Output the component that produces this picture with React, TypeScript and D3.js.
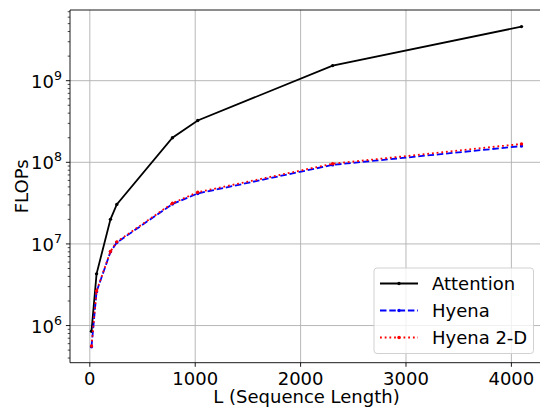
import React, { useEffect, useRef } from 'react';
import * as d3 from 'd3';

// sequence lengths (image sizes squared)
const seqLengths = [16, 64, 196, 256, 784, 1024, 2304, 4096];
const attentionFlops = [8.5e5, 4.3e6, 2.0e7, 3.05e7, 2.0e8, 3.25e8, 1.53e9, 4.6e9];
const hyenaFlops = [5.5e5, 2.6e6, 8.0e6, 1.04e7, 3.08e7, 4.15e7, 9.3e7, 1.58e8];
const hyena2dFlops = [5.6e5, 2.65e6, 8.1e6, 1.06e7, 3.15e7, 4.3e7, 9.6e7, 1.68e8];

const xTicks = [0, 1000, 2000, 3000, 4000];
const yExponents = [6, 7, 8, 9];

const seriesNames = ['Attention', 'Hyena', 'Hyena 2-D'];
const seriesColors = ['#000000', '#0000ff', '#ff0000'];
const seriesDash = [null, '6.5,2.8', '1.8,2.9'];

const W = 540;
const H = 408;
const FONT = 'DejaVu Sans, sans-serif';
const FS = 18;

const App = () => {
  const ref = useRef(null);

  useEffect(() => {
    const svg = d3.select(ref.current);
    svg.selectAll('*').remove();

    const left = 70, right = 543, top = 10, bottom = 362.7;

    const x = d3.scaleLinear().domain([-188, 4300]).range([left, right]);
    const y = d3.scaleLog().domain([Math.pow(10, 5.545), Math.pow(10, 9.866)]).range([bottom, top]);

    svg.append('rect').attr('width', W).attr('height', H).attr('fill', '#fff');

    const grid = svg.append('g').attr('stroke', '#b0b0b0').attr('stroke-width', 0.9);
    xTicks.forEach((t) => {
      grid.append('line').attr('x1', x(t)).attr('x2', x(t)).attr('y1', top).attr('y2', bottom);
    });
    yExponents.forEach((e) => {
      grid.append('line').attr('x1', left).attr('x2', right).attr('y1', y(Math.pow(10, e))).attr('y2', y(Math.pow(10, e)));
    });

    // lines
    const allSeries = [attentionFlops, hyenaFlops, hyena2dFlops];
    const line = d3.line().x((d) => x(d[0])).y((d) => y(d[1]));
    allSeries.forEach((vals, i) => {
      const pts = seqLengths.map((l, j) => [l, vals[j]]);
      const p = svg.append('path')
        .attr('d', line(pts))
        .attr('fill', 'none')
        .attr('stroke', seriesColors[i])
        .attr('stroke-width', 1.8);
      if (seriesDash[i]) p.attr('stroke-dasharray', seriesDash[i]);
      svg.append('g').selectAll('circle').data(pts).enter().append('circle')
        .attr('cx', (d) => x(d[0]))
        .attr('cy', (d) => y(d[1]))
        .attr('r', 1.7)
        .attr('fill', seriesColors[i]);
    });

    // spines
    const spines = svg.append('g').attr('stroke', '#000').attr('stroke-width', 0.9).attr('fill', 'none');
    spines.append('line').attr('x1', left).attr('x2', left).attr('y1', top).attr('y2', bottom);
    spines.append('line').attr('x1', left).attr('x2', right).attr('y1', bottom).attr('y2', bottom);
    spines.append('line').attr('x1', left).attr('x2', right).attr('y1', top).attr('y2', top);
    spines.append('line').attr('x1', right).attr('x2', right).attr('y1', top).attr('y2', bottom);

    // x ticks
    xTicks.forEach((t) => {
      svg.append('line').attr('x1', x(t)).attr('x2', x(t)).attr('y1', bottom).attr('y2', bottom + 4.1)
        .attr('stroke', '#000').attr('stroke-width', 0.9);
      svg.append('text').attr('x', x(t)).attr('y', 384.5).attr('text-anchor', 'middle')
        .attr('font-family', FONT).attr('font-size', FS).text(t);
    });

    // y ticks, major + minor
    const [y0, y1] = y.domain();
    for (let e = 5; e <= 9; e++) {
      for (let m = 1; m <= 9; m++) {
        const v = m * Math.pow(10, e);
        if (v < y0 || v > y1) continue;
        const len = m === 1 ? 4.1 : 2.3;
        svg.append('line').attr('x1', left - len).attr('x2', left).attr('y1', y(v)).attr('y2', y(v))
          .attr('stroke', '#000').attr('stroke-width', m === 1 ? 0.9 : 0.7);
      }
    }
    yExponents.forEach((e) => {
      const t = svg.append('text').attr('x', 62).attr('y', y(Math.pow(10, e)) + 7).attr('text-anchor', 'end')
        .attr('font-family', FONT).attr('font-size', FS);
      t.append('tspan').text('10');
      t.append('tspan').attr('dy', -8).attr('font-size', 12.6).text(e);
    });

    // axis labels
    svg.append('text').attr('x', (left + right) / 2).attr('y', 403.3).attr('text-anchor', 'middle')
      .attr('font-family', FONT).attr('font-size', FS).text('L (Sequence Length)');
    svg.append('text').attr('transform', `translate(28,${(top + bottom) / 2}) rotate(-90)`)
      .attr('text-anchor', 'middle').attr('font-family', FONT).attr('font-size', FS).text('FLOPs');

    // legend
    const lg = svg.append('g');
    lg.append('rect').attr('x', 374).attr('y', 268).attr('width', 159.5).attr('height', 85.5).attr('rx', 3)
      .attr('fill', '#fff').attr('fill-opacity', 0.8).attr('stroke', '#cccccc').attr('stroke-width', 0.9);
    seriesNames.forEach((name, i) => {
      const ly = 283.5 + i * 27;
      const l = lg.append('line').attr('x1', 380).attr('x2', 418).attr('y1', ly).attr('y2', ly)
        .attr('stroke', seriesColors[i]).attr('stroke-width', 1.8);
      if (seriesDash[i]) l.attr('stroke-dasharray', seriesDash[i]);
      lg.append('circle').attr('cx', 399).attr('cy', ly).attr('r', 1.7).attr('fill', seriesColors[i]);
      lg.append('text').attr('x', 432).attr('y', ly + 6.5).attr('font-family', FONT).attr('font-size', FS).text(name);
    });
  }, []);

  return (
    <svg ref={ref} width={W} height={H} style={{ position: 'absolute', left: 0, top: 0 }}></svg>
  );
};

export default App;
